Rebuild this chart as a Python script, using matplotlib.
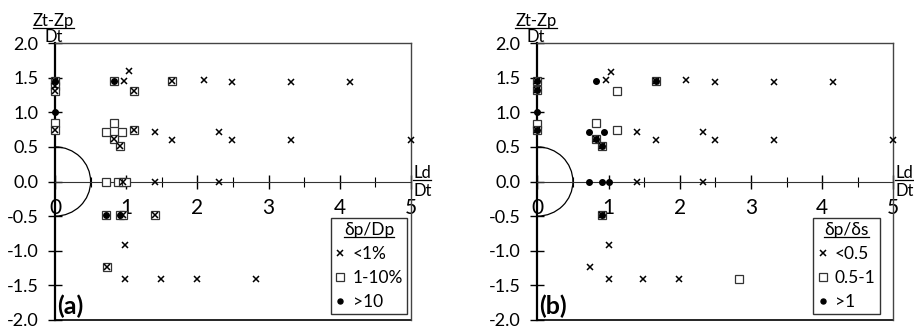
import numpy as np
import matplotlib
matplotlib.use("Agg")
import matplotlib.pyplot as plt
from matplotlib.patches import Arc
from matplotlib.lines import Line2D

plt.rcParams['font.family'] = ['Lato', 'DejaVu Sans']
plt.rcParams['axes.unicode_minus'] = False

# ===============================
# DATA (a) - dp/Dp
# ===============================
a_lo_x = [0, 0, 0, 0, 0.97, 1.04, 1.11, 1.65, 2.09, 2.49, 3.32, 4.15,
          0.83, 0.91, 1.11, 1.40, 1.65, 2.31, 2.49, 3.32, 5.0,
          0.95, 1.40, 2.31, 0.96, 1.40, 0.99, 0.73, 0.99, 1.49, 1.99, 2.82]
a_lo_y = [1.45, 1.38, 1.31, 0.75, 1.45, 1.59, 1.30, 1.45, 1.47, 1.43, 1.43, 1.43,
          0.61, 0.51, 0.74, 0.71, 0.60, 0.71, 0.60, 0.60, 0.60,
          0.0, 0.0, 0.0, -0.49, -0.49, -0.91, -1.24, -1.41, -1.41, -1.41, -1.41]

a_mid_x = [0, 0, 0, 0, 0, 0.83, 1.11, 1.65, 0.72, 0.83, 0.94, 0.83, 0.91, 1.11,
           0.72, 0.89, 0.95, 1.0, 0.72, 0.91, 0.96, 1.40, 0.73]
a_mid_y = [1.45, 1.38, 1.31, 0.85, 0.75, 1.45, 1.30, 1.45, 0.72, 0.84, 0.72, 0.61, 0.51, 0.74,
           0.0, 0.0, 0.0, 0.0, -0.49, -0.49, -0.49, -0.49, -1.24]

a_hi_x = [0, 0, 0.83, 0.72, 0.91]
a_hi_y = [1.45, 1.0, 1.45, -0.49, -0.49]

a_title = "δp/Dp"
a_labels = ["<1%", "1-10%", ">10"]

# ===============================
# DATA (b) - dp/ds
# ===============================
b_lo_x = [0, 0, 0, 0.97, 1.04, 1.67, 2.09, 2.49, 3.33, 4.16,
          0.83, 0.91, 1.40, 1.67, 2.33, 2.49, 3.33, 5.0,
          1.40, 2.33, 0.91, 1.0, 0.74, 1.0, 1.49, 1.99]
b_lo_y = [1.45, 1.32, 0.75, 1.47, 1.58, 1.45, 1.47, 1.43, 1.43, 1.43,
          0.61, 0.51, 0.71, 0.60, 0.71, 0.60, 0.60, 0.60,
          0.0, 0.0, -0.49, -0.91, -1.24, -1.41, -1.41, -1.41]

b_mid_x = [0, 0, 0, 0, 1.12, 1.67, 0.83, 0.83, 0.91, 1.12, 0.91, 2.83]
b_mid_y = [1.45, 1.32, 0.83, 0.75, 1.30, 1.45, 0.84, 0.61, 0.51, 0.75, -0.49, -1.41]

b_hi_x = [0, 0, 0, 0, 0.83, 0.72, 0.94, 0.83, 0.91, 1.67, 0.73, 0.91, 1.0, 0.91]
b_hi_y = [1.45, 1.32, 1.0, 0.75, 1.45, 0.71, 0.71, 0.61, 0.51, 1.45, 0.0, 0.0, 0.0, -0.49]

b_title = "δp/δs"
b_labels = ["<0.5", "0.5-1", ">1"]

x_ticks = [0, 1, 2, 3, 4, 5]
y_ticks = [-2.0, -1.5, -1.0, -0.5, 0.0, 0.5, 1.0, 1.5, 2.0]


def underline(fig, txt, off=1.0):
    bb = txt.get_window_extent()
    inv = fig.transFigure.inverted()
    (x0, y0), (x1, _) = inv.transform([(bb.x0, bb.y0 + off), (bb.x1, bb.y0 + off)])
    fig.add_artist(Line2D([x0, x1], [y0, y0], color='black', lw=0.9, zorder=10))


def draw_panel(ax, lo, mid, hi, title, labels, tag):
    ax.set_xlim(0, 5)
    ax.set_ylim(-2, 2)

    ax.add_patch(Arc((0, 0), 1.0, 1.0, theta1=-90, theta2=90, color='black', lw=0.9))

    h_mid, = ax.plot(mid[0], mid[1], ls='none', marker='s', ms=6, mfc='white',
                     mec='#333333', mew=0.9, clip_on=False, zorder=3)
    h_lo, = ax.plot(lo[0], lo[1], ls='none', marker='x', ms=4.5, mec='black',
                    mew=1.1, clip_on=False, zorder=4)
    h_hi, = ax.plot(hi[0], hi[1], ls='none', marker='o', ms=4, mfc='black',
                    mec='black', clip_on=False, zorder=5)

    # axes frame
    ax.spines['bottom'].set_position(('data', 0))
    ax.spines['bottom'].set_color('#333333')
    ax.spines['left'].set_linewidth(1.6)
    ax.spines['left'].set_color('black')
    for s in ['top', 'right']:
        ax.spines[s].set_color('#444444')
        ax.spines[s].set_linewidth(1.0)
    ax.axhline(-2, color='black', lw=1.2, clip_on=False)

    ax.set_xticks(x_ticks)
    ax.set_xticks(np.arange(0.5, 5, 1), minor=True)
    ax.tick_params(axis='x', which='major', direction='inout', length=10,
                   width=1, pad=7, labelsize=15)
    ax.tick_params(axis='x', which='minor', direction='inout', length=7, width=0.8)
    ax.set_yticks(y_ticks)
    ax.set_yticklabels([f"{v:.1f}" for v in y_ticks])
    ax.tick_params(axis='y', direction='inout', length=10, width=1, pad=7, labelsize=13)

    tr = ax.get_xaxis_transform()
    zt = ax.text(-0.02, 1.079, "Zt-Zp", transform=tr, ha='center', va='center', fontsize=12)
    ax.text(-0.02, 1.02, "Dt", transform=tr, ha='center', va='center', fontsize=12)
    ld = ax.text(5.03, 0.530, "Ld", transform=tr, ha='left', va='center', fontsize=12)
    ax.text(5.03, 0.467, "Dt", transform=tr, ha='left', va='center', fontsize=12)

    ax.text(0.005, 0.05, tag, transform=ax.transAxes, ha='left', va='center',
            fontsize=18, fontweight='bold')

    leg = ax.legend([h_lo, h_mid, h_hi], labels, title=title, loc='lower left',
                    bbox_to_anchor=(0.775, 0.021), borderaxespad=0, fontsize=12.5,
                    title_fontsize=12.5, fancybox=False, edgecolor='#333333',
                    framealpha=1, handlelength=0.6, handletextpad=0.4,
                    labelspacing=0.45, borderpad=0.25, markerscale=0.9)
    leg.get_frame().set_linewidth(1.0)
    return [zt, ld, leg.get_title()]


fig = plt.figure(figsize=(9.14, 3.29), dpi=100)
ax1 = fig.add_axes([55 / 914, 9 / 329, 356 / 914, 277 / 329])
ax2 = fig.add_axes([537.3 / 914, 9 / 329, 356 / 914, 277 / 329])

to_underline = draw_panel(ax1, (a_lo_x, a_lo_y), (a_mid_x, a_mid_y), (a_hi_x, a_hi_y),
                          a_title, a_labels, "(a)")
to_underline += draw_panel(ax2, (b_lo_x, b_lo_y), (b_mid_x, b_mid_y), (b_hi_x, b_hi_y),
                           b_title, b_labels, "(b)")

fig.canvas.draw()
for t in to_underline:
    underline(fig, t)

fig.savefig("out.png", dpi=100)
